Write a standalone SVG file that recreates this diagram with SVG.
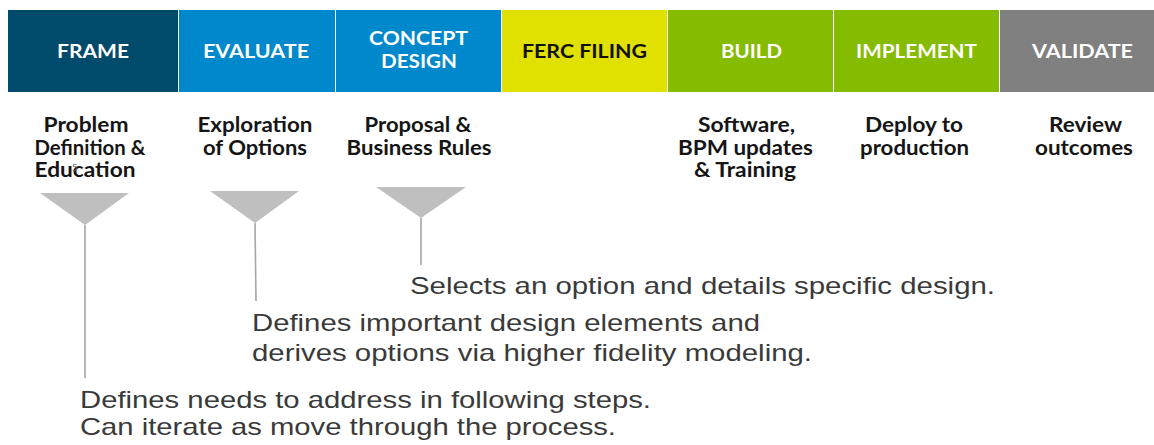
<svg xmlns="http://www.w3.org/2000/svg" width="1154" height="445" viewBox="0 0 1154 445">
<style>
.hd{font-family:Lato,"Liberation Sans",sans-serif;font-weight:bold;font-size:18px;text-anchor:middle;fill:#ffffff}
.sub{font-family:Lato,"Liberation Sans",sans-serif;font-weight:bold;font-size:20px;text-anchor:middle;fill:#151515}
.desc{font-family:"Liberation Sans",Arial,sans-serif;font-size:24px;fill:#3a3a3a}
.tri{fill:#bfbfbf}
.ln{stroke:#a6a6a6;stroke-width:1.6;fill:none}
</style>
<rect width="1154" height="445" fill="#ffffff"/>
<g id="frame">
<rect x="8" y="10" width="170" height="82" fill="#004a6c"/>
<text class="hd" x="93" y="58" textLength="72" lengthAdjust="spacingAndGlyphs">FRAME</text>
<text class="sub" x="86" y="132" textLength="85" lengthAdjust="spacingAndGlyphs">Problem</text>
<text class="sub" x="90" y="155" textLength="111" lengthAdjust="spacingAndGlyphs">Definition &amp;</text>
<text class="sub" x="85" y="177" textLength="101" lengthAdjust="spacingAndGlyphs">Education</text>
<text x="72" y="171" font-family="Lato,'Liberation Sans',sans-serif" font-size="9" fill="#666">5</text>
<polygon class="tri" points="40,193 129,193 85,225"/>
</g>
<g id="evaluate">
<rect x="179" y="10" width="156" height="82" fill="#0088cc"/>
<text class="hd" x="256" y="58" textLength="106" lengthAdjust="spacingAndGlyphs">EVALUATE</text>
<text class="sub" x="255" y="132" textLength="115" lengthAdjust="spacingAndGlyphs">Exploration</text>
<text class="sub" x="255" y="155" textLength="104" lengthAdjust="spacingAndGlyphs">of Options</text>
<polygon class="tri" points="210,191 299,191 255,223"/>
</g>
<g id="concept-design">
<rect x="336" y="10" width="165" height="82" fill="#0088cc"/>
<text class="hd" x="418.5" y="45" textLength="99" lengthAdjust="spacingAndGlyphs">CONCEPT</text>
<text class="hd" x="419" y="68" textLength="76" lengthAdjust="spacingAndGlyphs">DESIGN</text>
<text class="sub" x="418" y="132" textLength="107" lengthAdjust="spacingAndGlyphs">Proposal &amp;</text>
<text class="sub" x="419" y="155" textLength="145" lengthAdjust="spacingAndGlyphs">Business Rules</text>
<polygon class="tri" points="376,187 466,187 421,218"/>
</g>
<g id="ferc-filing">
<rect x="502" y="10" width="165" height="82" fill="#e1e100"/>
<text class="hd" x="584.5" y="58" textLength="125" lengthAdjust="spacingAndGlyphs" style="fill:#111111">FERC FILING</text>
</g>
<g id="build">
<rect x="668" y="10" width="165" height="82" fill="#85bb00"/>
<text class="hd" x="751.5" y="58" textLength="61" lengthAdjust="spacingAndGlyphs">BUILD</text>
<text class="sub" x="746.5" y="132" textLength="97" lengthAdjust="spacingAndGlyphs">Software,</text>
<text class="sub" x="745.5" y="155" textLength="135" lengthAdjust="spacingAndGlyphs">BPM updates</text>
<text class="sub" x="745" y="177" textLength="102" lengthAdjust="spacingAndGlyphs">&amp; Training</text>
</g>
<g id="implement">
<rect x="834" y="10" width="165" height="82" fill="#85bb00"/>
<text class="hd" x="916.5" y="58" textLength="121" lengthAdjust="spacingAndGlyphs">IMPLEMENT</text>
<text class="sub" x="914" y="132" textLength="98" lengthAdjust="spacingAndGlyphs">Deploy to</text>
<text class="sub" x="914.5" y="155" textLength="109" lengthAdjust="spacingAndGlyphs">production</text>
</g>
<g id="validate">
<rect x="1000" y="10" width="154" height="82" fill="#808080"/>
<text class="hd" x="1082.5" y="58" textLength="101" lengthAdjust="spacingAndGlyphs">VALIDATE</text>
<text class="sub" x="1085.5" y="132" textLength="73" lengthAdjust="spacingAndGlyphs">Review</text>
<text class="sub" x="1084" y="155" textLength="98" lengthAdjust="spacingAndGlyphs">outcomes</text>
</g>
<g id="connectors">
<line class="ln" x1="85" y1="225" x2="85" y2="378"/>
<line class="ln" x1="255" y1="223" x2="256" y2="301"/>
<line class="ln" x1="421" y1="218" x2="421" y2="265"/>
</g>
<g id="descriptions">
<text class="desc" x="410" y="294" textLength="585" lengthAdjust="spacingAndGlyphs">Selects an option and details specific design.</text>
<text class="desc" x="252" y="331" textLength="508" lengthAdjust="spacingAndGlyphs">Defines important design elements and</text>
<text class="desc" x="252" y="361" textLength="560" lengthAdjust="spacingAndGlyphs">derives options via higher fidelity modeling.</text>
<text class="desc" x="80" y="408" textLength="571" lengthAdjust="spacingAndGlyphs">Defines needs to address in following steps.</text>
<text class="desc" x="80" y="435" textLength="536" lengthAdjust="spacingAndGlyphs">Can iterate as move through the process.</text>
</g>
</svg>
